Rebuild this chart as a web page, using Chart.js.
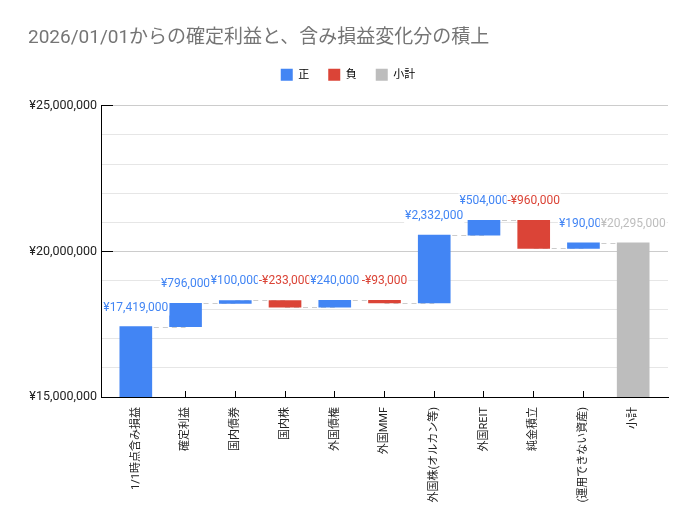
<!DOCTYPE html>
<html>
<head>
<meta charset="utf-8">
<title>確定利益と含み損益変化分の積上</title>
<script src="https://cdn.jsdelivr.net/npm/chart.js@4.4.1/dist/chart.umd.min.js"></script>
<style>
    html, body { margin: 0; padding: 0; background: #fff; }
    #wrap { width: 695px; height: 530px; }
</style>
</head>
<body>
<div id="wrap"><canvas id="waterfallChart" width="695" height="530"></canvas></div>
<script>
// Data
const categories = ['1/1時点含み損益', '確定利益', '国内債券', '国内株', '外国債権', '外国MMF', '外国株(オルカン等)', '外国REIT', '純金積立', '(運用できない資産)', '小計'];
const startValue = 17419000;
const changes = [796000, 100000, -233000, 240000, -93000, 2332000, 504000, -960000, 190000];
const subtotalValue = 20295000;
const yTickLabels = [15000000, 20000000, 25000000];
const legendNames = ['正', '負', '小計'];

const COLORS = { pos: '#4285F4', neg: '#DB4437', sub: '#BDBDBD' };
const FONT = "Roboto, 'Noto Sans CJK JP', sans-serif";

// floating bars [from, to] built from the values above
const bars = [[0, startValue]];
const kinds = ['pos'];
let running = startValue;
changes.forEach(v => {
    bars.push([running, running + v]);
    kinds.push(v >= 0 ? 'pos' : 'neg');
    running += v;
});
bars.push([0, subtotalValue]);
kinds.push('sub');
const labelValues = [startValue, ...changes, subtotalValue];

function yen(v) {
    return (v < 0 ? '-' : '') + '¥' + Math.abs(v).toLocaleString('en-US');
}

// dashed connectors + value labels
const waterfallExtras = {
    id: 'waterfallExtras',
    beforeDatasetsDraw(chart) {
        const meta = chart.getDatasetMeta(0);
        const yScale = chart.scales.y;
        const ctx = chart.ctx;
        ctx.save();
        ctx.strokeStyle = '#cccccc';
        ctx.lineWidth = 1;
        ctx.setLineDash([5, 4]);
        for (let i = 0; i < meta.data.length - 1; i++) {
            const py = Math.round(yScale.getPixelForValue(bars[i][1])) + 0.5;
            ctx.beginPath();
            ctx.moveTo(meta.data[i].x, py);
            ctx.lineTo(meta.data[i + 1].x, py);
            ctx.stroke();
        }
        ctx.restore();
    },
    afterDatasetsDraw(chart) {
        const meta = chart.getDatasetMeta(0);
        const ctx = chart.ctx;
        ctx.save();
        ctx.font = '12px ' + FONT;
        ctx.textAlign = 'center';
        ctx.textBaseline = 'middle';
        meta.data.forEach((el, i) => {
            const top = Math.min(el.y, el.base);
            const text = yen(labelValues[i]);
            const w = ctx.measureText(text).width;
            const ly = top - 19;
            ctx.fillStyle = '#ffffff';
            ctx.fillRect(el.x - w / 2 - 1, ly - 8, w + 2, 16);
            ctx.fillStyle = COLORS[kinds[i]];
            ctx.fillText(text, el.x, ly);
        });
        ctx.restore();
    }
};

const ctx = document.getElementById('waterfallChart').getContext('2d');

new Chart(ctx, {
    type: 'bar',
    data: {
        datasets: [{
            data: bars.map((r, i) => ({ x: i, y: r })),
            backgroundColor: kinds.map(k => COLORS[k]),
            borderWidth: 0,
            barThickness: 32
        }]
    },
    options: {
        responsive: false,
        animation: false,
        layout: {
            padding: { left: 28, right: 27, top: 0, bottom: 0 }
        },
        plugins: {
            title: {
                display: true,
                text: '2026/01/01からの確定利益と、含み損益変化分の積上',
                align: 'start',
                color: '#757575',
                font: { family: FONT, size: 19, weight: 'normal', lineHeight: 1.2 },
                padding: { top: 27, bottom: 0 }
            },
            subtitle: {
                // spacer between legend and plot
                display: true,
                text: '',
                weight: 500,
                font: { size: 1, lineHeight: 1 },
                padding: { top: 14, bottom: 0 }
            },
            legend: {
                display: true,
                position: 'top',
                onClick: () => {},
                labels: {
                    boxWidth: 12,
                    boxHeight: 12,
                    padding: 19,
                    color: '#222222',
                    font: { family: FONT, size: 11 },
                    generateLabels: () => legendNames.map((name, i) => {
                        const c = [COLORS.pos, COLORS.neg, COLORS.sub][i];
                        return { text: name, fillStyle: c, strokeStyle: c, lineWidth: 0, hidden: false, datasetIndex: 0 };
                    })
                }
            },
            tooltip: { enabled: false }
        },
        scales: {
            x: {
                type: 'linear',
                min: -0.7,
                max: 10.7,
                offset: false,
                afterBuildTicks: (axis) => {
                    axis.ticks = categories.map((_, i) => ({ value: i }));
                },
                afterFit: (scale) => { scale.height = 133; },
                ticks: {
                    autoSkip: false,
                    maxRotation: 90,
                    minRotation: 90,
                    padding: 16,
                    color: '#222222',
                    font: { family: FONT, size: 11 },
                    callback: (value) => categories[value] ?? ''
                },
                grid: {
                    drawOnChartArea: false,
                    drawTicks: true,
                    tickLength: -6,
                    tickColor: '#000000',
                    offset: false
                },
                border: { color: '#000000', width: 1 }
            },
            y: {
                min: 15000000,
                max: 25000000,
                afterFit: (scale) => { scale.width = 73; },
                ticks: {
                    stepSize: 1000000,
                    autoSkip: false,
                    padding: 16,
                    color: '#222222',
                    font: { family: FONT, size: 12.5 },
                    callback: (value) => yTickLabels.includes(value) ? yen(value) : ''
                },
                grid: {
                    color: (c) => (c.tick && c.tick.value % 5000000 === 0) ? '#cccccc' : '#e6e6e6',
                    tickColor: (c) => (c.tick && c.tick.value % 5000000 === 0) ? '#000000' : 'rgba(0,0,0,0)',
                    tickLength: -12
                },
                border: { color: '#000000', width: 1 }
            }
        }
    },
    plugins: [waterfallExtras]
});
</script>
</body>
</html>
